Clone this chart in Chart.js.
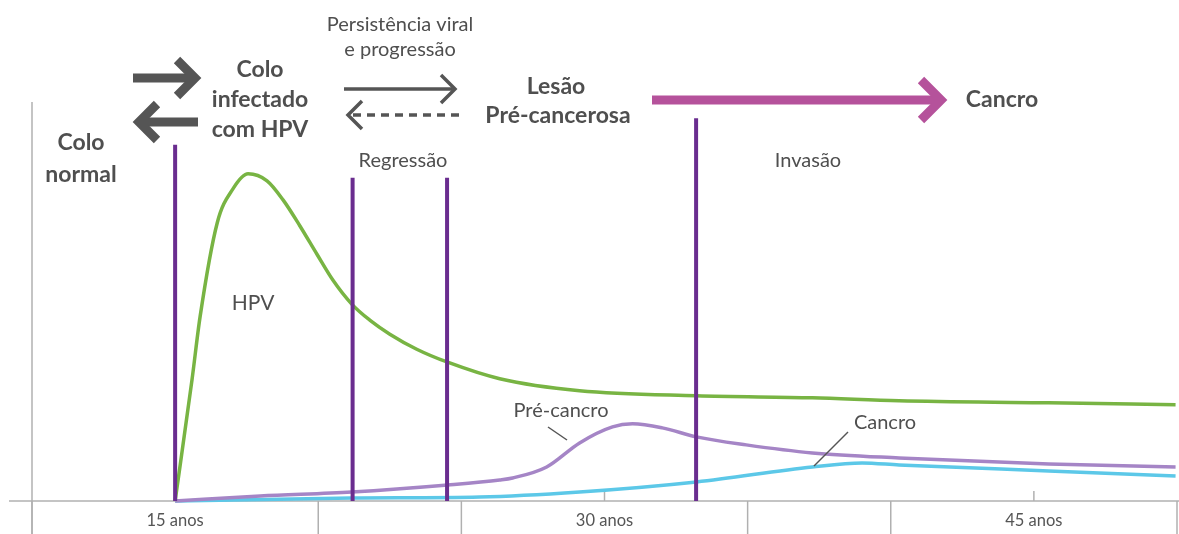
<!DOCTYPE html>
<html>
<head>
<meta charset="utf-8">
<script src="https://cdn.jsdelivr.net/npm/chart.js@4"></script>
<style>
  html, body { margin: 0; padding: 0; background: #ffffff; }
  #wrap { position: relative; width: 1179px; height: 534px; }
</style>
</head>
<body>
<div id="wrap"><canvas id="c" width="1179" height="534"></canvas></div>
<script>
// ---- data (x = age in years, y = relative level 0-100) ----
const hpvYears    = [15.00, 15.59, 15.87, 16.47, 17.02, 17.55, 18.21, 18.77, 19.36, 19.95, 20.51, 21.17, 21.80, 22.50, 23.44, 24.52, 26.34, 29.13, 33.21, 37.26, 40.29, 45.52, 49.95];
const hpvValues   = [0, 24.2, 36.7, 55.5, 62.3, 65.3, 63.9, 60.1, 54.9, 49.3, 44.1, 39.3, 36.1, 33.3, 30.3, 27.7, 24.4, 22.0, 21.0, 20.6, 20.0, 19.6, 19.2];

const preYears    = [15.00, 17.97, 21.17, 24.52, 26.34, 26.79, 27.98, 29.13, 30.28, 30.98, 32.02, 33.21, 34.95, 37.26, 40.29, 45.52, 49.95];
const preValues   = [0, 1.0, 1.8, 3.2, 4.2, 4.6, 6.8, 11.6, 14.8, 15.4, 14.6, 12.8, 11.2, 9.6, 8.6, 7.4, 6.8];

const cancerYears  = [15.00, 21.17, 25.64, 29.13, 33.21, 37.26, 39.00, 40.29, 45.52, 49.95];
const cancerValues = [0, 0.6, 0.8, 1.8, 3.8, 6.8, 7.6, 7.2, 6.0, 5.0];

const eventYears   = [15.0, 21.2, 24.5, 33.2];
const eventHeights = [71.1, 64.5, 64.5, 76.4];

const separatorYears = [10, 20, 25, 35, 40, 50];
const tickYears      = [15, 30, 45];
const tickLabels     = ['15 anos', '30 anos', '45 anos'];

// ---- build datasets ----
const toPts = (xs, ys) => xs.map((x, i) => ({ x: x, y: ys[i] }));

const datasets = [];
eventYears.forEach((yr, i) => {
  datasets.push({
    data: [{ x: yr, y: 0 }, { x: yr, y: eventHeights[i] }],
    borderColor: '#6a2d8f', borderWidth: 4, pointRadius: 0, tension: 0,
    borderCapStyle: 'butt', clip: false
  });
});
datasets.push({
  data: toPts(hpvYears, hpvValues), borderColor: '#78b443', borderWidth: 3.5,
  pointRadius: 0, cubicInterpolationMode: 'monotone', clip: false
});
datasets.push({
  data: toPts(preYears, preValues), borderColor: '#a585c6', borderWidth: 3.5,
  pointRadius: 0, cubicInterpolationMode: 'monotone', clip: false
});
datasets.push({
  data: toPts(cancerYears, cancerValues), borderColor: '#5cc8e8', borderWidth: 3.5,
  pointRadius: 0, cubicInterpolationMode: 'monotone', clip: false
});

const TXT = '#4f4f4f';
const FONT = 'Lato, "Open Sans", sans-serif';

function arrow(ctx, x1, y1, x2, y2, w, color, head, dash) {
  ctx.save();
  ctx.strokeStyle = color; ctx.lineWidth = w; ctx.lineCap = 'butt'; ctx.lineJoin = 'miter';
  const dir = Math.sign(x2 - x1);
  ctx.setLineDash(dash || []);
  ctx.beginPath(); ctx.moveTo(x1, y1); ctx.lineTo(x2 - dir * w * 0.6, y2); ctx.stroke();
  ctx.setLineDash([]);
  ctx.beginPath();
  ctx.moveTo(x2 - dir * head, y2 - head);
  ctx.lineTo(x2, y2);
  ctx.lineTo(x2 - dir * head, y2 + head);
  ctx.stroke();
  ctx.restore();
}

function text(ctx, s, x, y, size, bold, color) {
  ctx.save();
  ctx.font = (bold ? 'bold ' : '') + size + 'px ' + FONT;
  ctx.fillStyle = color || TXT;
  ctx.textAlign = 'center'; ctx.textBaseline = 'middle';
  ctx.fillText(s, x, y);
  ctx.restore();
}

const framePlugin = {
  id: 'frame',
  beforeDatasetsDraw(chart) {
    const ctx = chart.ctx, xs = chart.scales.x, ys = chart.scales.y;
    const base = ys.getPixelForValue(0);
    ctx.save();
    ctx.strokeStyle = '#b0b0b0'; ctx.lineWidth = 1.5;
    ctx.beginPath(); ctx.moveTo(9, base); ctx.lineTo(chart.width, base); ctx.stroke();
    const x0 = xs.getPixelForValue(separatorYears[0]);
    ctx.beginPath(); ctx.moveTo(x0, 102); ctx.lineTo(x0, chart.height); ctx.stroke();
    separatorYears.forEach(v => {
      const px = xs.getPixelForValue(v);
      ctx.beginPath(); ctx.moveTo(px, base); ctx.lineTo(px, chart.height); ctx.stroke();
    });
    tickYears.forEach(v => {
      const px = xs.getPixelForValue(v);
      ctx.beginPath(); ctx.moveTo(px, base - 10); ctx.lineTo(px, base); ctx.stroke();
    });
    ctx.restore();
  },
  afterDraw(chart) {
    const ctx = chart.ctx, xs = chart.scales.x, ys = chart.scales.y;
    const base = ys.getPixelForValue(0);
    tickYears.forEach((v, i) => {
      text(ctx, tickLabels[i], xs.getPixelForValue(v), base + 20, 16.5, false, '#555');
    });
    text(ctx, 'Colo', 81, 143, 23, true);
    text(ctx, 'normal', 81, 175, 23, true);
    text(ctx, 'Colo', 260, 70, 23, true);
    text(ctx, 'infectado', 260, 100, 23, true);
    text(ctx, 'com HPV', 260, 130, 23, true);
    text(ctx, 'Persistência viral', 400, 25, 20, false);
    text(ctx, 'e progressão', 400, 50, 20, false);
    text(ctx, 'Lesão', 556, 87, 23, true);
    text(ctx, 'Pré-cancerosa', 558, 116, 23, true);
    text(ctx, 'Cancro', 1002, 100, 23, true);
    text(ctx, 'Regressão', 403, 161, 20, false);
    text(ctx, 'Invasão', 808, 161, 20, false);
    text(ctx, 'HPV', 253, 303, 21, false);
    text(ctx, 'Pré-cancro', 561, 411, 20, false);
    text(ctx, 'Cancro', 885, 423, 20, false);
    arrow(ctx, 133, 78, 195, 78, 9, '#555555', 18);
    arrow(ctx, 198, 122, 139, 122, 9, '#555555', 18);
    arrow(ctx, 344, 89, 455, 89, 3.5, '#555555', 14);
    arrow(ctx, 459, 115, 348, 115, 3.5, '#555555', 14, [8, 6]);
    arrow(ctx, 652, 100, 941, 100, 9, '#b5529b', 20);
    ctx.save();
    ctx.strokeStyle = '#555'; ctx.lineWidth = 1.5;
    ctx.beginPath(); ctx.moveTo(548, 427); ctx.lineTo(567, 440); ctx.stroke();
    ctx.beginPath(); ctx.moveTo(848, 432); ctx.lineTo(814, 466); ctx.stroke();
    ctx.restore();
  }
};

new Chart(document.getElementById('c'), {
  type: 'line',
  data: { datasets: datasets },
  options: {
    responsive: false,
    devicePixelRatio: 1,
    animation: false,
    layout: { padding: { left: 32, right: 2, top: 0, bottom: 33 } },
    plugins: { legend: { display: false }, tooltip: { enabled: false } },
    scales: {
      x: { type: 'linear', min: 10, max: 50, display: false },
      y: { min: 0, max: 100, display: false }
    }
  },
  plugins: [framePlugin]
});
</script>
</body>
</html>
